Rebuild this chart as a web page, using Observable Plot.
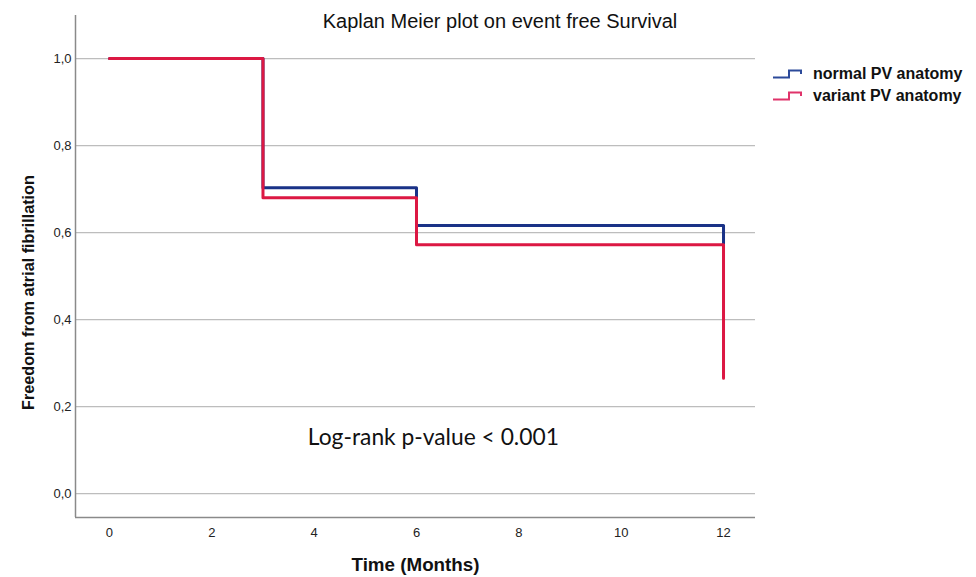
<!DOCTYPE html>
<html>
<head>
<meta charset="utf-8">
<script src="https://cdn.jsdelivr.net/npm/d3@7"></script>
<script src="https://cdn.jsdelivr.net/npm/@observablehq/plot@0.6"></script>
<style>
  body { margin: 0; background: #fff; }
  #wrap { position: relative; width: 976px; height: 577px; font-family: "Liberation Sans", Arial, sans-serif; }
  #title { position: absolute; left: 0; width: 1000px; top: 10px; text-align: center; font-size: 20px; color: #111; }
  .leg { position: absolute; left: 773px; font-size: 16px; font-weight: bold; color: #111; display: flex; align-items: center; }
  .leg svg { margin-right: 10px; }
</style>
</head>
<body>
<div id="wrap">
  <div id="title">Kaplan Meier plot on event free Survival</div>
  <div id="chart"></div>
  <div class="leg" style="top:65px"><svg width="30" height="10"><path d="M0,8.5H16V1.5H28V5" fill="none" stroke="#2c4a9a" stroke-width="2"/></svg>normal PV anatomy</div>
  <div class="leg" style="top:87px"><svg width="30" height="10"><path d="M0,8.5H16V1.5H28V5" fill="none" stroke="#e0336a" stroke-width="2"/></svg>variant PV anatomy</div>
</div>
<script>
const times = [0, 3, 6, 12];
const normalPV = [1.0, 0.703, 0.616, 0.575];
const variantPV = [1.0, 0.680, 0.572, 0.265];
const xTicks = [0, 2, 4, 6, 8, 10, 12];
const yTicks = [0, 0.2, 0.4, 0.6, 0.8, 1.0];
const seriesNames = ["normal PV anatomy", "variant PV anatomy"];
const seriesColors = ["#1a3287", "#dc1843"];
const annotation = {x: 6.33, y: 0.128, label: "Log-rank p-value < 0.001"};

const rows = [];
times.forEach((t, i) => rows.push({t, s: normalPV[i], g: seriesNames[0]}));
times.forEach((t, i) => rows.push({t, s: variantPV[i], g: seriesNames[1]}));

const fmt = d => d.toFixed(1).replace(".", ",");

const plot = Plot.plot({
  width: 976,
  height: 577,
  marginLeft: 75,
  marginRight: 221,
  marginTop: 15,
  marginBottom: 60,
  style: {fontFamily: "'Liberation Sans', Arial, sans-serif", fontSize: "13px", color: "#222", background: "#fff"},
  x: {domain: [-0.664, 12.625], ticks: xTicks, tickSize: 0, tickPadding: 10, label: null},
  y: {domain: [-0.055, 1.099], ticks: yTicks, tickSize: 0, tickPadding: 4, tickFormat: fmt, label: null},
  color: {domain: seriesNames, range: seriesColors},
  marks: [
    Plot.gridY(yTicks, {stroke: "#bdbdbd", strokeOpacity: 1, strokeWidth: 1.2}),
    Plot.axisY({ticks: yTicks, tickSize: 0, tickPadding: 4, tickFormat: fmt, fontSize: 13}),
    Plot.axisX({ticks: xTicks, tickSize: 0, tickPadding: 10, fontSize: 13}),
    Plot.ruleX([-0.664], {stroke: "#8a8a8a", strokeWidth: 1.5}),
    Plot.ruleY([-0.055], {stroke: "#8a8a8a", strokeWidth: 1.5}),
    Plot.line(rows.filter(d => d.g === seriesNames[0]), {x: "t", y: "s", stroke: "g", curve: "step-after", strokeWidth: 3}),
    Plot.line(rows.filter(d => d.g === seriesNames[1]), {x: "t", y: "s", stroke: "g", curve: "step-after", strokeWidth: 3}),
    Plot.text([annotation], {x: "x", y: "y", text: "label", fontSize: 22.8, fontFamily: "Lato, sans-serif", fill: "#111", textAnchor: "middle"}),
    Plot.text(["Freedom from atrial fibrillation"], {frameAnchor: "left", textAnchor: "middle", dx: -47, dy: 26, rotate: -90, fontSize: 16.2, fontWeight: "bold", fill: "#111"}),
    Plot.text(["Time (Months)"], {frameAnchor: "bottom", textAnchor: "middle", dy: 53, fontSize: 18.8, fontWeight: "bold", fill: "#111"})
  ]
});
document.getElementById("chart").appendChild(plot);
</script>
</body>
</html>
